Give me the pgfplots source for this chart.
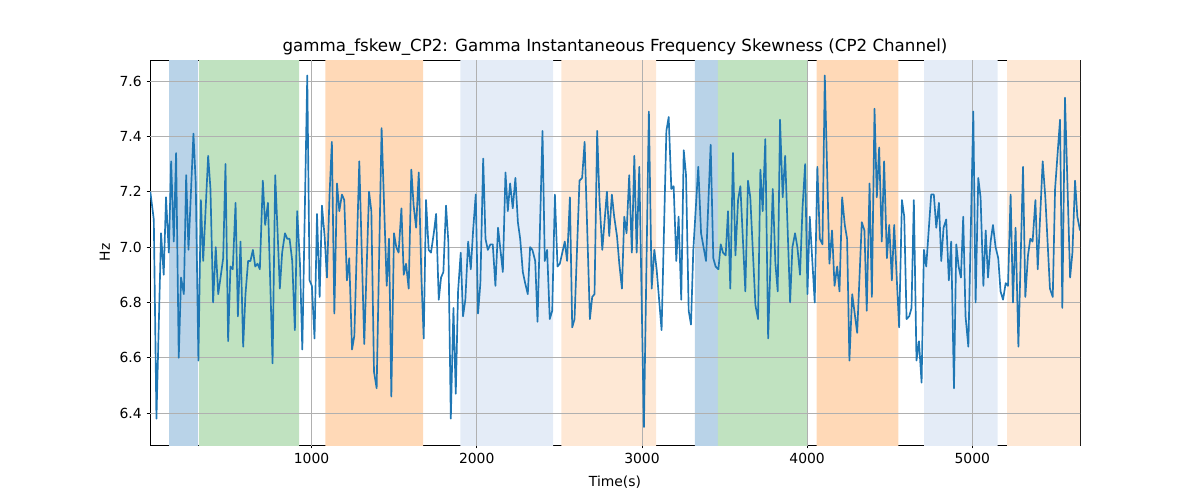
\documentclass[border=0pt]{standalone}
\usepackage{pgfplots}
\pgfplotsset{compat=1.18}
\usepackage{pgfplotstable}
\usepackage{fontspec}
\setmainfont{DejaVu Sans}
\definecolor{tabblue}{HTML}{1F77B4}
\definecolor{bandblue}{HTML}{B9D3E8}
\definecolor{bandgreen}{HTML}{C0E2C0}
\definecolor{bandorange}{HTML}{FFD9B7}
\definecolor{bandlorange}{HTML}{FEE8D5}
\definecolor{bandlblue}{HTML}{E4ECF7}
\definecolor{gridgray}{HTML}{B0B0B0}
\pgfplotstableread{
x y
24 7.20
45 7.10
61 6.38
89 7.05
105 6.90
119 7.18
136 6.98
150 7.31
166 7.02
180 7.34
196 6.60
210 6.89
227 6.83
241 7.26
255 6.99
285 7.41
299 7.23
315 6.59
330 7.17
344 6.95
374 7.33
388 7.21
404 6.80
420 7.00
435 6.83
449 6.89
465 6.96
479 7.30
495 6.66
509 6.93
523 6.92
540 7.16
554 6.75
570 7.02
586 6.64
600 6.83
616 6.95
630 6.95
645 6.99
659 6.93
673 6.94
687 6.92
705 7.24
719 7.08
736 7.16
764 6.58
780 7.26
794 7.06
808 6.85
822 6.98
839 7.05
853 7.03
867 7.03
883 6.95
899 6.70
913 7.13
930 6.94
944 6.63
974 7.62
988 6.88
1002 6.86
1018 6.67
1033 7.12
1049 6.82
1063 7.15
1079 7.04
1093 6.89
1109 7.19
1123 7.38
1138 6.76
1154 7.23
1168 7.13
1184 7.19
1198 7.17
1214 6.88
1228 6.96
1245 6.63
1259 6.68
1289 7.31
1319 6.65
1348 7.20
1362 7.13
1378 6.55
1394 6.49
1424 7.43
1455 6.86
1469 7.03
1483 6.46
1499 7.05
1513 7.00
1527 6.98
1544 7.14
1558 6.90
1572 6.94
1588 6.85
1604 7.28
1618 7.15
1633 7.07
1649 7.27
1665 6.89
1679 6.67
1693 7.17
1709 6.99
1723 6.98
1740 7.05
1754 7.12
1770 6.81
1784 6.89
1798 6.91
1814 7.15
1828 7.02
1843 6.38
1859 6.78
1873 6.47
1887 6.84
1903 6.98
1917 6.75
1931 6.81
1948 7.02
1964 6.92
1978 7.06
1994 7.19
2008 6.76
2022 6.87
2039 7.32
2053 7.03
2067 6.99
2083 7.01
2097 7.01
2113 6.86
2129 7.07
2158 6.91
2174 7.27
2188 7.13
2202 7.23
2218 7.14
2234 7.25
2249 7.09
2263 7.03
2279 6.91
2293 6.87
2309 6.83
2323 7.00
2337 6.99
2354 6.95
2368 6.73
2398 7.42
2412 6.95
2426 6.99
2442 6.74
2457 6.77
2473 7.19
2489 6.93
2503 6.94
2533 7.02
2547 6.95
2564 7.18
2578 6.71
2592 6.74
2622 7.24
2638 7.25
2653 7.38
2685 6.74
2699 6.82
2713 6.83
2729 7.42
2743 7.17
2760 6.99
2788 7.20
2802 7.04
2818 7.19
2832 7.11
2849 7.04
2863 6.94
2879 6.85
2893 7.11
2907 7.05
2923 7.26
2939 6.98
2954 7.33
2968 6.98
2984 7.29
3012 6.35
3042 7.49
3059 6.85
3075 6.99
3089 6.92
3119 6.70
3148 7.42
3162 7.47
3178 7.21
3192 7.22
3208 6.95
3222 7.11
3238 6.81
3253 7.35
3267 7.26
3283 6.77
3297 6.72
3311 6.99
3341 7.29
3358 7.05
3388 6.95
3416 7.37
3432 6.96
3446 6.93
3463 6.92
3477 7.01
3491 6.98
3507 6.97
3521 7.13
3535 6.85
3551 7.34
3566 6.97
3582 7.17
3596 7.22
3626 6.84
3642 7.24
3656 7.18
3687 6.79
3703 6.74
3717 7.28
3731 7.13
3747 7.39
3764 6.67
3792 7.21
3808 6.94
3822 6.84
3836 7.46
3852 7.18
3867 7.33
3897 6.80
3911 7.00
3927 7.05
3941 7.00
3957 6.90
3972 7.14
3988 7.30
4002 6.83
4016 7.11
4046 6.80
4062 7.29
4077 7.03
4093 7.01
4107 7.62
4135 6.94
4151 7.06
4166 6.86
4182 6.93
4196 6.84
4212 7.18
4228 7.08
4242 7.03
4256 6.59
4273 6.83
4303 6.69
4331 7.09
4347 7.06
4361 6.77
4378 7.23
4392 6.82
4408 7.50
4422 7.18
4436 7.36
4452 7.02
4466 7.31
4483 6.96
4497 7.08
4513 6.88
4527 7.08
4557 6.71
4574 7.17
4588 7.11
4602 6.74
4618 6.75
4632 6.78
4646 7.17
4662 6.59
4677 6.66
4693 6.51
4707 6.99
4721 6.93
4751 7.19
4767 7.19
4782 7.07
4798 7.16
4812 6.95
4826 7.07
4842 7.10
4858 6.88
4872 7.02
4889 6.49
4903 7.01
4917 6.93
4931 6.89
4945 7.11
4959 6.75
4976 6.64
5006 7.49
5020 6.80
5036 7.25
5050 7.18
5067 6.86
5081 7.06
5095 6.89
5111 7.02
5125 7.08
5141 7.00
5157 6.96
5171 6.84
5186 6.81
5202 6.87
5216 6.86
5232 7.19
5246 6.80
5262 7.07
5279 6.64
5307 7.29
5321 6.82
5337 6.97
5351 7.03
5365 7.02
5382 7.17
5396 6.92
5426 7.31
5442 7.18
5470 6.85
5487 6.82
5501 7.21
5531 7.46
5545 6.78
5561 7.54
5592 6.89
5606 6.98
5622 7.24
5636 7.11
5652 7.06
}\datatable
\newcommand{\band}[3]{\addplot[draw=none, fill=#3, forget plot] coordinates {(#1,6.0) (#2,6.0) (#2,8.0) (#1,8.0)} \closedcycle;}
\newcommand{\vgrid}[1]{\addplot[gridgray, line width=0.58pt, forget plot] coordinates {(#1,6.0) (#1,8.0)};}
\newcommand{\hgrid}[1]{\addplot[gridgray, line width=0.58pt, forget plot] coordinates {(0,#1) (6000,#1)};}
\begin{document}
\begin{tikzpicture}
\useasboundingbox (-108pt,-39.6pt) rectangle (756pt,320.4pt);
\begin{axis}[
  at={(0,0)}, anchor=south west,
  scale only axis,
  width=669.6pt, height=277.2pt,
  xmin=22, xmax=5652, ymin=6.285, ymax=7.676,
  xtick={1000,2000,3000,4000,5000},
  ytick={6.4,6.6,6.8,7.0,7.2,7.4,7.6},
  yticklabel style={/pgf/number format/.cd, fixed, fixed zerofill, precision=1},
  /pgf/number format/assume math mode=true,
  scaled x ticks=false,
  xticklabel style={/pgf/number format/1000 sep={}},
  tick style={black, line width=0.58pt},
  major tick length=2.5pt,
  tick align=outside,
  xtick pos=bottom, ytick pos=left,
  axis line style={black, line width=0.58pt},
  ticklabel style={font=\fontsize{10}{12}\selectfont},
  title={gamma\_fskew\_CP2: Gamma Instantaneous Frequency Skewness (CP2 Channel)},
  title style={font=\fontsize{12}{14}\selectfont, yshift=-6pt},
  xlabel={Time(s)},
  xlabel style={yshift=-2pt},
  ylabel={Hz},
  label style={font=\fontsize{10}{12}\selectfont},
]
\band{138}{314}{bandblue}
\band{320}{924}{bandgreen}
\band{1083}{1675}{bandorange}
\band{1901}{2463}{bandlblue}
\band{2513}{3086}{bandlorange}
\band{3321}{3460}{bandblue}
\band{3460}{3999}{bandgreen}
\band{4058}{4553}{bandorange}
\band{4709}{5153}{bandlblue}
\band{5210}{5660}{bandlorange}
\vgrid{1000}\vgrid{2000}\vgrid{3000}\vgrid{4000}\vgrid{5000}
\hgrid{6.4}\hgrid{6.6}\hgrid{6.8}\hgrid{7.0}\hgrid{7.2}\hgrid{7.4}\hgrid{7.6}
\addplot[tabblue, line width=1.2pt, line join=round] table[x=x,y=y] {\datatable};
\end{axis}
\end{tikzpicture}
\end{document}
